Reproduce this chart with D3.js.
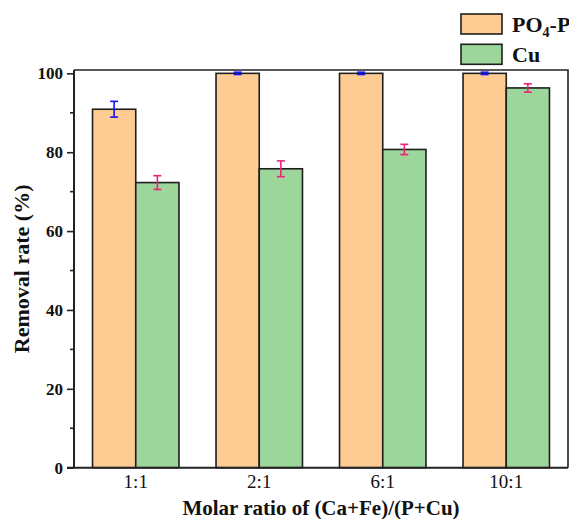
<!DOCTYPE html>
<html>
<head>
<meta charset="utf-8">
<script src="https://cdn.jsdelivr.net/npm/d3@7"></script>
<style>
  body { margin: 0; background: #fff; }
  svg { display: block; font-family: "Liberation Serif", "Times New Roman", serif; }
  svg text { font-family: "Liberation Serif", "Times New Roman", serif; }
</style>
</head>
<body>
<svg id="chart" width="569" height="519"></svg>
<script>
// data
var categories = ['1:1', '2:1', '6:1', '10:1'];
var po4Values = [90.9, 100, 100, 100];
var po4Errors = [2.0, 0.3, 0.3, 0.3];
var cuValues = [72.3, 75.8, 80.7, 96.3];
var cuErrors = [1.75, 2.0, 1.3, 1.05];
var yTicks = [0, 20, 40, 60, 80, 100];
var yMinorTicks = [10, 30, 50, 70, 90];

var series = [
  { name: 'PO4-P', values: po4Values, errors: po4Errors, fill: '#FECC93', errColor: '#1515F5' },
  { name: 'Cu', values: cuValues, errors: cuErrors, fill: '#9DD69B', errColor: '#F0207A' }
];

var svg = d3.select('#chart');

// plot frame (window.top is reserved, so use own names)
var plotLeft = 74, plotRight = 568, plotTop = 70, plotBottom = 467.7;

var x = d3.scaleBand()
  .domain(categories)
  .range([plotLeft, plotRight])
  .paddingInner(0.3)
  .paddingOuter(0.15);

var xSub = d3.scaleBand()
  .domain(series.map(function (s) { return s.name; }))
  .range([0, x.bandwidth()]);

var y = d3.scaleLinear()
  .domain([0, 100.85])
  .range([plotBottom, plotTop]);

function seriesRows(s) {
  return s.values.map(function (v, i) {
    return { s: s, cat: categories[i], v: v, e: s.errors[i] };
  });
}

// bars
var groups = svg.append('g')
  .selectAll('g.series')
  .data(series)
  .enter()
  .append('g')
  .attr('class', 'series');

groups.selectAll('rect')
  .data(seriesRows)
  .enter()
  .append('rect')
  .attr('x', function (d) { return x(d.cat) + xSub(d.s.name); })
  .attr('y', function (d) { return y(d.v); })
  .attr('width', xSub.bandwidth())
  .attr('height', function (d) { return y(0) - y(d.v); })
  .attr('fill', function (d) { return d.s.fill; })
  .attr('stroke', '#1e1e1e')
  .attr('stroke-width', 1.6);

// error bars
var capHalf = 4;
groups.selectAll('g.err')
  .data(seriesRows)
  .enter()
  .append('g')
  .attr('class', 'err')
  .attr('stroke', function (d) { return d.s.errColor; })
  .attr('stroke-width', 1.6)
  .each(function (d) {
    var g = d3.select(this);
    var cx = x(d.cat) + xSub(d.s.name) + xSub.bandwidth() / 2;
    g.append('line').attr('x1', cx).attr('x2', cx).attr('y1', y(d.v + d.e)).attr('y2', y(d.v - d.e));
    g.append('line').attr('x1', cx - capHalf).attr('x2', cx + capHalf).attr('y1', y(d.v + d.e)).attr('y2', y(d.v + d.e));
    g.append('line').attr('x1', cx - capHalf).attr('x2', cx + capHalf).attr('y1', y(d.v - d.e)).attr('y2', y(d.v - d.e));
  });

// frame top and right
svg.append('path')
  .attr('d', 'M' + plotLeft + ',' + plotTop + 'H' + plotRight + 'V' + plotBottom)
  .attr('fill', 'none')
  .attr('stroke', '#222')
  .attr('stroke-width', 1.6);

// y axis
var yAxis = svg.append('g')
  .attr('transform', 'translate(' + plotLeft + ',0)')
  .call(d3.axisLeft(y).tickValues(yTicks).tickSize(7).tickPadding(4));
yAxis.attr('font-family', null);
yAxis.select('.domain').attr('d', 'M0,' + plotTop + 'V' + plotBottom).attr('stroke', '#222').attr('stroke-width', 2);
yAxis.selectAll('.tick line').attr('stroke', '#222').attr('stroke-width', 1.6);
yAxis.selectAll('.tick text')
  .attr('fill', '#111')
  .style('font-size', '17px')
  .style('font-weight', 'bold');

svg.append('g')
  .attr('transform', 'translate(' + plotLeft + ',0)')
  .selectAll('line')
  .data(yMinorTicks)
  .enter()
  .append('line')
  .attr('x1', -4)
  .attr('x2', 0)
  .attr('y1', function (d) { return y(d); })
  .attr('y2', function (d) { return y(d); })
  .attr('stroke', '#222')
  .attr('stroke-width', 1.6);

// x axis
var xAxis = svg.append('g')
  .attr('transform', 'translate(0,' + plotBottom + ')')
  .call(d3.axisBottom(x).tickSize(0).tickPadding(7));
xAxis.attr('font-family', null);
xAxis.select('.domain').attr('d', 'M' + (plotLeft - 7) + ',0H' + plotRight).attr('stroke', '#222').attr('stroke-width', 2);
xAxis.selectAll('.tick text')
  .attr('fill', '#111')
  .style('font-size', '19px');

// axis titles
svg.append('text')
  .attr('x', (plotLeft + plotRight) / 2)
  .attr('y', 515)
  .attr('text-anchor', 'middle')
  .style('font-size', '21px')
  .style('font-weight', 'bold')
  .attr('fill', '#111')
  .text('Molar ratio of (Ca+Fe)/(P+Cu)');

svg.append('text')
  .attr('transform', 'translate(29,' + ((plotTop + plotBottom) / 2) + ') rotate(-90)')
  .attr('text-anchor', 'middle')
  .style('font-size', '22px')
  .style('font-weight', 'bold')
  .attr('fill', '#111')
  .text('Removal rate (%)');

// legend
var legend = svg.append('g')
  .selectAll('g')
  .data(series)
  .enter()
  .append('g')
  .attr('transform', function (d, i) { return 'translate(461,' + (14 + i * 30.3) + ')'; });

legend.append('rect')
  .attr('width', 41)
  .attr('height', 20)
  .attr('fill', function (d) { return d.fill; })
  .attr('stroke', '#1e1e1e')
  .attr('stroke-width', 1.6);

var legendText = legend.append('text')
  .attr('x', 51)
  .attr('y', 17.5)
  .style('font-size', '22px')
  .style('font-weight', 'bold')
  .attr('fill', '#111');

legendText.each(function (d) {
  var t = d3.select(this);
  if (d.name === 'PO4-P') {
    t.append('tspan').text('PO');
    t.append('tspan').attr('dy', 5).style('font-size', '14px').text('4');
    t.append('tspan').attr('dy', -5).text('-P');
  } else {
    t.text(d.name);
  }
});
</script>
</body>
</html>
